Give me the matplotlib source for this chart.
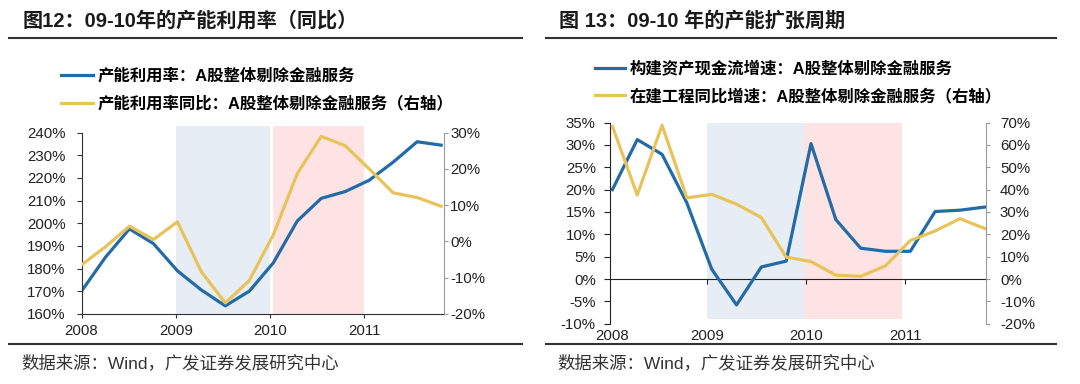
import numpy as np
import matplotlib
matplotlib.use('Agg')
import matplotlib.pyplot as plt
from matplotlib.lines import Line2D

# ---- data (quarterly, 2008Q1 - 2011Q4) ----
quarters = np.arange(16)
year_labels = ['2008', '2009', '2010', '2011']

# fig 12
util_rate = [170, 185, 197.5, 191, 179, 170.5, 163.5, 170, 182.5, 201, 211, 214, 219, 227, 236, 234.5]
util_yoy = [-6.5, -1.5, 4.2, 0.5, 5.4, -8.4, -17, -10.8, 1.8, 18.7, 29, 26.4, 20, 13.4, 12.1, 9.7]

# fig 13
capex_cf = [20, 31.2, 27.9, 17, 2.2, -5.8, 2.7, 4.0, 30.3, 13.3, 6.9, 6.2, 6.2, 15.1, 15.4, 16.1]
cip_yoy = [68.3, 37.6, 68.8, 36.3, 37.9, 33.5, 27.5, 9.8, 7.8, 1.7, 1.2, 5.9, 17.2, 21.5, 27, 22.6]

title_l = '图12：09-10年的产能利用率（同比）'
title_r = '图 13：09-10 年的产能扩张周期'
leg_l = ['产能利用率：A股整体剔除金融服务', '产能利用率同比：A股整体剔除金融服务（右轴）']
leg_r = ['构建资产现金流增速：A股整体剔除金融服务', '在建工程同比增速：A股整体剔除金融服务（右轴）']
source = '数据来源：Wind，广发证券发展研究中心'

BLUE = '#236ba6'
YELLOW = '#e8c35a'
SHADE_B = '#e6edf4'
SHADE_R = '#fde3e3'
TXT = '#222222'

plt.rcParams['font.family'] = ['Liberation Sans', 'Noto Sans CJK SC', 'DejaVu Sans']
CJK = ['Liberation Sans', 'Noto Sans CJK SC']

W, H = 1080, 384
fig = plt.figure(figsize=(W / 100, H / 100), dpi=100)


def fx(px):
    return px / W


def fy(py):
    return 1 - py / H


def pct(vals):
    return [f'{v}%' for v in vals]


# ---------------- left chart ----------------
ax = fig.add_axes([fx(81.5), fy(313.8), fx(444 - 81.5), (313.8 - 132.7) / H])
ax2 = ax.twinx()
ax.axvspan(3.94, 7.87, ymin=0, ymax=1.039, color=SHADE_B, lw=0, clip_on=False, zorder=0)
ax.axvspan(8.0, 11.8, ymin=0, ymax=1.039, color=SHADE_R, lw=0, clip_on=False, zorder=0)
l1, = ax.plot(quarters, util_rate, color=BLUE, lw=2.3, label=leg_l[0])
l2, = ax2.plot(quarters, util_yoy, color=YELLOW, lw=2.3, label=leg_l[1])
ax.set_xlim(0, 15.12)
ax.set_ylim(160, 240)
ax2.set_ylim(-20, 30)
ax.set_yticks(range(160, 241, 10))
ax.set_yticklabels(pct(range(160, 241, 10)))
ax2.set_yticks(range(-20, 31, 10))
ax2.set_yticklabels(pct(range(-20, 31, 10)))
ax.set_xticks([0, 3.94, 7.87, 11.8])
ax.set_xticklabels(year_labels)
for s in ['top', 'right']:
    ax.spines[s].set_visible(False)
for s in ['top', 'left', 'bottom']:
    ax2.spines[s].set_visible(False)
ax.spines['left'].set_color('#333333')
ax.spines['bottom'].set_color('#333333')
ax2.spines['right'].set_color('#9a9a9a')
ax.tick_params(axis='y', length=3.5, pad=8, labelsize=10.8, labelcolor=TXT, color='#333333')
ax.tick_params(axis='x', length=3, pad=4, labelsize=10.8, labelcolor=TXT, color='#333333')
ax2.tick_params(axis='y', length=3, pad=1.5, labelsize=10.8, labelcolor=TXT, color='#9a9a9a')

fig.legend(handles=[l1, l2], loc='upper left', bbox_to_anchor=(fx(60.7), fy(68)),
           frameon=False, handlelength=1.95, handletextpad=0.3,
           labelspacing=0.72, borderpad=0, borderaxespad=0,
           prop={'family': CJK, 'size': 11.8, 'weight': 'bold'})

# ---------------- right chart ----------------
bx = fig.add_axes([fx(609.7), fy(323.7), fx(986 - 609.7), (323.7 - 122.6) / H])
bx2 = bx.twinx()
bx.axvspan(3.82, 7.73, ymin=0.024, ymax=1, color=SHADE_B, lw=0, zorder=0)
bx.axvspan(7.73, 11.67, ymin=0.024, ymax=1, color=SHADE_R, lw=0, zorder=0)
m1, = bx.plot(quarters, capex_cf, color=BLUE, lw=2.3, label=leg_r[0])
m2, = bx2.plot(quarters, cip_yoy, color=YELLOW, lw=2.3, label=leg_r[1])
bx.set_xlim(-0.11, 15.05)
bx.set_ylim(-10, 35)
bx2.set_ylim(-20, 70)
bx.set_yticks(range(-10, 36, 5))
bx.set_yticklabels(pct(range(-10, 36, 5)))
bx2.set_yticks(range(-20, 71, 10))
bx2.set_yticklabels(pct(range(-20, 71, 10)))
ticks_r = [0, 3.82, 7.81, 11.8]
bx.set_xticks(ticks_r)
bx.set_xticklabels(year_labels)
for s in ['top', 'right', 'bottom']:
    bx.spines[s].set_visible(False)
for s in ['top', 'left', 'bottom']:
    bx2.spines[s].set_visible(False)
bx.spines['left'].set_color('#222222')
bx2.spines['right'].set_color('#9a9a9a')
bx.tick_params(axis='y', length=4, pad=6, labelsize=10.8, labelcolor=TXT, color='#222222')
bx.tick_params(axis='x', length=0, pad=4, labelsize=10.8, labelcolor=TXT)
bx2.tick_params(axis='y', length=3, pad=7, labelsize=10.8, labelcolor=TXT, color='#9a9a9a')

# zero line with year ticks
zx = bx.secondary_xaxis(0, transform=bx.transData)
zx.set_xticks(ticks_r[1:])
zx.set_xticklabels([])
zx.spines['bottom'].set_color('#222222')
zx.tick_params(axis='x', length=3.5, color='#222222')

fig.legend(handles=[m1, m2], loc='upper left', bbox_to_anchor=(fx(595), fy(60.5)),
           frameon=False, handlelength=1.85, handletextpad=0.25,
           labelspacing=0.72, borderpad=0, borderaxespad=0,
           prop={'family': CJK, 'size': 11.8, 'weight': 'bold'})

# ---------------- titles, rules, sources ----------------
fig.text(fx(22.6), fy(21), title_l, ha='left', va='center', fontsize=14.5,
         weight='bold', color='#1a1a1a', family=CJK)
fig.text(fx(559), fy(21), title_r, ha='left', va='center', fontsize=14.5,
         weight='bold', color='#1a1a1a', family=CJK)
for x0, x1 in [(8.7, 522), (546, 1056)]:
    fig.add_artist(Line2D([fx(x0), fx(x1)], [fy(37.6)] * 2, color='#333333', lw=1.5))
    fig.add_artist(Line2D([fx(x0), fx(x1)], [fy(343.5)] * 2, color='#333333', lw=1.5))
fig.text(fx(21), fy(362.5), source, ha='left', va='center', fontsize=12.5,
         color='#333333', family=CJK, weight='light')
fig.text(fx(557), fy(362.5), source, ha='left', va='center', fontsize=12.5,
         color='#333333', family=CJK, weight='light')

fig.savefig('out.png', dpi=100)
